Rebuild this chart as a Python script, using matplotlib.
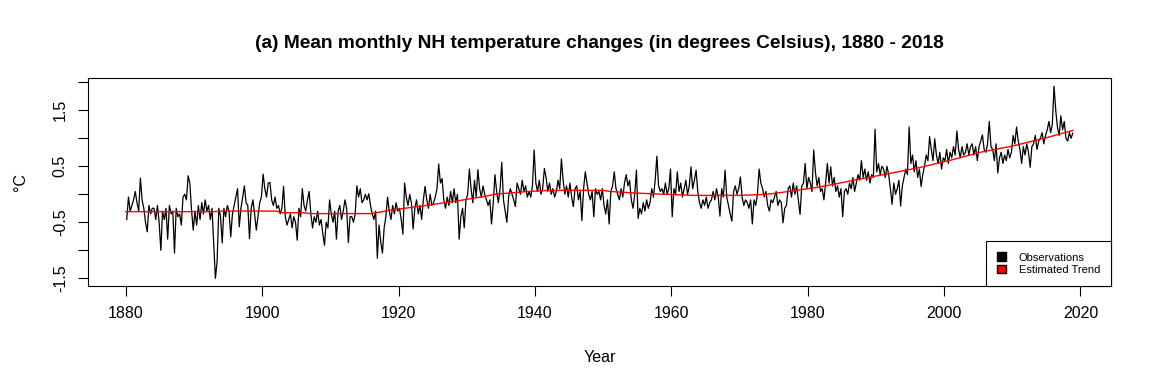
import numpy as np
import matplotlib
matplotlib.use("Agg")
import matplotlib.pyplot as plt
from matplotlib.patches import Patch

plt.rcParams['font.family'] = ['Liberation Sans', 'DejaVu Sans']

# quarterly readings of the NH anomaly (deg C), 4 per year, 1880 - 2018
obs = [
    -0.45, -0.05, -0.30, -0.20,   # 1880
    -0.10, 0.05, -0.15, -0.30,
    0.29, -0.10, -0.25, -0.50,
    -0.67, -0.20, -0.35, -0.25,
    -0.25, -0.45, -0.20, -0.50,
    -1.00, -0.30, -0.45, -0.25,   # 1885
    -0.80, -0.20, -0.35, -0.30,
    -1.05, -0.25, -0.40, -0.35,
    -0.55, -0.05, 0.00, -0.10,
    0.33, 0.20, -0.28, -0.64,
    -0.30, -0.55, -0.20, -0.45,   # 1890
    -0.15, -0.35, -0.10, -0.30,
    -0.20, -0.45, -0.25, -0.88,
    -1.50, -1.20, -0.25, -0.40,
    -0.87, -0.25, -0.40, -0.20,
    -0.30, -0.76, -0.35, -0.20,   # 1895
    -0.05, 0.10, -0.58, -0.25,
    -0.05, 0.15, -0.15, -0.20,
    -0.79, -0.25, -0.10, -0.35,
    -0.64, -0.40, -0.15, -0.05,
    0.36, 0.10, -0.05, 0.20,      # 1900
    0.21, -0.10, -0.20, -0.05,
    -0.25, -0.20, -0.35, -0.25,
    0.14, -0.40, -0.55, -0.45,
    -0.35, -0.60, -0.40, -0.50,
    -0.82, -0.25, -0.40, 0.10,    # 1905
    -0.20, -0.30, -0.10, 0.05,
    -0.35, -0.60, -0.40, -0.50,
    -0.30, -0.55, -0.45, -0.70,
    -0.91, -0.50, -0.60, -0.10,
    -0.35, -0.50, -0.30, -0.80,   # 1910
    -0.30, -0.20, -0.45, -0.30,
    -0.10, -0.25, -0.86, -0.40,
    -0.40, -0.50, -0.35, 0.15,
    -0.05, 0.10, -0.15, -0.10,
    0.00, -0.10, 0.01, -0.20,     # 1915
    -0.35, -0.45, -0.30, -1.14,
    -0.55, -0.85, -1.05, -0.60,
    -0.40, -0.05, -0.30, -0.45,
    -0.20, -0.35, -0.15, -0.30,
    -0.25, -0.45, -0.71, 0.20,    # 1920
    -0.05, -0.20, 0.00, -0.15,
    -0.62, -0.25, -0.10, -0.35,
    -0.20, -0.45, -0.10, 0.14,
    -0.10, -0.25, 0.00, -0.20,
    -0.15, -0.05, 0.10, 0.54,     # 1925
    0.20, 0.28, -0.10, -0.25,
    -0.05, -0.20, 0.05, -0.15,
    0.10, -0.15, 0.00, -0.80,
    -0.40, -0.25, -0.60, -0.10,
    0.00, 0.45, 0.10, -0.15,      # 1930
    0.25, -0.05, 0.44, 0.10,
    -0.05, 0.15, 0.00, -0.10,
    -0.20, -0.10, -0.53, -0.15,
    0.35, 0.05, -0.15, 0.10,
    0.57, -0.10, -0.30, -0.50,    # 1935
    -0.05, 0.10, 0.00, -0.10,
    -0.22, 0.20, 0.10, 0.00,
    0.25, 0.05, 0.15, -0.05,
    0.05, -0.05, 0.15, 0.79,
    0.20, 0.05, 0.25, 0.00,       # 1940
    0.10, 0.46, 0.30, 0.05,
    0.20, 0.00, 0.10, -0.05,
    0.05, 0.25, 0.10, 0.63,
    0.25, 0.00, 0.15, -0.05,
    0.20, -0.05, -0.22, 0.10,     # 1945
    0.15, -0.10, 0.05, -0.47,
    0.10, 0.40, 0.20, 0.00,
    -0.10, 0.05, -0.40, 0.10,
    0.00, 0.05, -0.10, 0.10,
    -0.20, -0.35, -0.10, -0.53,   # 1950
    0.05, 0.15, 0.40, 0.10,
    0.00, -0.10, 0.10, -0.05,
    0.20, 0.35, 0.15, 0.25,
    -0.10, -0.25, 0.00, 0.43,
    -0.43, -0.25, -0.35, -0.15,   # 1955
    -0.30, -0.10, -0.25, -0.15,
    0.10, -0.05, 0.25, 0.68,
    0.15, 0.05, 0.10, 0.00,
    0.20, 0.00, 0.10, 0.45,
    -0.40, 0.10, 0.00, 0.40,      # 1960
    0.05, 0.20, -0.05, 0.10,
    0.25, 0.00, 0.15, 0.49,
    0.10, 0.25, 0.43, 0.05,
    -0.15, -0.25, -0.10, -0.20,
    -0.05, -0.25, -0.15, -0.10,   # 1965
    0.05, -0.10, 0.10, -0.05,
    -0.39, 0.10, -0.05, 0.43,
    -0.05, -0.20, -0.35, -0.48,
    0.05, 0.15, 0.00, 0.10,
    0.31, -0.05, -0.20, -0.10,    # 1970
    -0.15, -0.25, -0.10, -0.53,
    -0.10, -0.20, 0.00, 0.45,
    0.20, 0.10, -0.05, 0.05,
    -0.20, -0.30, -0.10, -0.15,
    -0.05, 0.05, -0.20, -0.10,    # 1975
    -0.15, -0.51, -0.25, -0.20,
    0.10, 0.15, -0.05, 0.20,
    0.00, 0.15, -0.10, -0.36,
    0.15, 0.20, 0.55, 0.10,
    0.30, 0.20, 0.05, 0.79,       # 1980
    0.40, 0.15, 0.30, 0.05,
    0.10, -0.10, 0.20, 0.55,
    0.20, 0.49, 0.15, 0.30,
    0.05, 0.15, -0.05, 0.10,
    -0.40, 0.05, 0.10, 0.00,      # 1985
    0.20, 0.10, 0.30, 0.05,
    0.20, 0.35, 0.25, 0.60,
    0.30, 0.45, 0.25, 0.40,
    0.20, 0.35, 0.30, 1.16,
    0.40, 0.55, 0.35, 0.50,       # 1990
    0.45, 0.30, 0.50, 0.35,
    0.10, -0.18, 0.20, 0.00,
    0.10, 0.25, -0.21, 0.15,
    0.30, 0.45, 0.35, 1.20,
    0.55, 0.70, 0.40, 0.60,       # 1995
    0.30, 0.45, 0.14, 0.35,
    0.50, 0.70, 0.60, 1.03,
    0.80, 0.60, 0.99, 0.70,
    0.55, 0.75, 0.45, 0.65,
    0.60, 0.80, 0.55, 0.75,       # 2000
    0.65, 0.85, 0.70, 1.13,
    0.80, 0.65, 0.85, 0.70,
    0.75, 0.90, 0.70, 0.85,
    0.90, 0.70, 0.85, 0.60,
    0.85, 0.95, 1.06, 0.80,       # 2005
    0.75, 0.90, 1.30, 0.85,
    0.80, 0.60, 0.90, 0.38,
    0.65, 0.75, 0.55, 0.70,
    0.60, 0.80, 0.65, 0.75,
    1.05, 0.90, 1.20, 0.95,       # 2010
    0.80, 0.55, 0.85, 0.70,
    0.90, 0.75, 0.48, 0.85,
    0.90, 1.05, 0.80, 0.95,
    1.00, 1.10, 0.90, 1.05,
    1.15, 1.30, 1.10, 1.25,       # 2015
    1.93, 1.50, 1.20, 1.05,
    1.40, 1.15, 1.30, 1.00,
    0.95, 1.10, 1.00, 1.09,       # 2018
]
obs_years = 1880 + np.arange(len(obs)) * 0.25 + 0.125

# estimated trend, read at knots
trend_years = [1880, 1893, 1894, 1902, 1903, 1906, 1907, 1916, 1919, 1924,
               1929, 1933, 1934, 1937, 1939, 1942, 1950, 1951, 1952.5, 1955,
               1959, 1963.5, 1970, 1974, 1976, 1978, 1981.5, 1984.5, 1987.5,
               1991.5, 1996.5, 2001, 2005.5, 2010, 2015, 2018.9]
trend_vals = [-0.31, -0.31, -0.30, -0.30, -0.33, -0.33, -0.345, -0.345, -0.28, -0.20,
              -0.11, -0.03, 0.0, 0.03, 0.05, 0.07, 0.07, 0.05, 0.04, 0.02,
              0.0, -0.02, -0.02, 0.0, 0.03, 0.065, 0.125, 0.195, 0.27,
              0.36, 0.48, 0.61, 0.755, 0.86, 1.01, 1.14]

xticks = [1880, 1900, 1920, 1940, 1960, 1980, 2000, 2020]
yticks = [-1.5, -1.0, -0.5, 0.0, 0.5, 1.0, 1.5, 2.0]
ylabels = ['-1.5', '', '-0.5', '', '0.5', '', '1.5', '']

fig = plt.figure(figsize=(11.52, 3.84), dpi=100)
ax = fig.add_axes([88 / 1152, 1 - 286 / 384, (1111 - 88) / 1152, (286 - 78.3) / 384])

ax.plot(obs_years, obs, color='black', lw=0.9)
ax.plot(trend_years, trend_vals, color='red', lw=1.0)

ax.set_xlim(1874.44, 2024.48)
ax.set_ylim(-1.637, 2.07)
ax.set_xticks(xticks)
ax.set_yticks(yticks)
ax.set_yticklabels(ylabels, rotation=90, va='center')
ax.tick_params(direction='out', length=7.5, width=0.8, labelsize=11.5, pad=7, top=False, right=False)
for s in ax.spines.values():
    s.set_linewidth(0.8)

ax.set_xlabel('Year', fontsize=11.5, labelpad=21)
ax.set_ylabel('°C', fontsize=11.5, labelpad=18)
ax.set_title('(a) Mean monthly NH temperature changes (in degrees Celsius), 1880 - 2018',
             fontsize=13.8, fontweight='bold', pad=22)

handles = [Patch(facecolor='black', edgecolor='black'), Patch(facecolor='red', edgecolor='black')]
leg = ax.legend(handles, ['Observations', 'Estimated Trend'], loc='lower right',
                fontsize=8, frameon=True, fancybox=False, framealpha=1,
                edgecolor='black', borderaxespad=0, handlelength=0.8,
                handleheight=0.8, handletextpad=1.1, borderpad=1.0, labelspacing=0.2)
leg.get_frame().set_linewidth(0.8)

fig.savefig('out.png', dpi=100)
